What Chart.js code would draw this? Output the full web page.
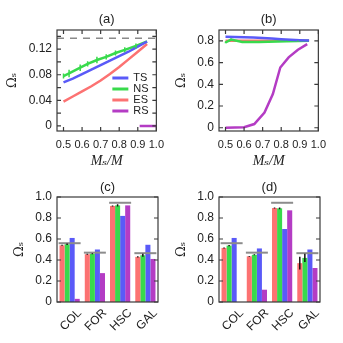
<!DOCTYPE html>
<html>
<head>
<meta charset="utf-8">
<script src="https://cdn.jsdelivr.net/npm/chart.js@4.4.1/dist/chart.umd.min.js"></script>
<style>
  html, body { margin: 0; padding: 0; background: #fff; }
  #wrap { position: relative; width: 343px; height: 343px; overflow: hidden; }
  .panel { position: absolute; }
</style>
</head>
<body>
<div id="wrap">
  <canvas id="ca" class="panel" width="171" height="171" style="left:0;top:0"></canvas>
  <canvas id="cb" class="panel" width="171" height="171" style="left:162px;top:0"></canvas>
  <canvas id="cc" class="panel" width="171" height="173" style="left:0;top:170px"></canvas>
  <canvas id="cd" class="panel" width="171" height="173" style="left:162px;top:170px"></canvas>
</div>
<script>
// ---- data ----
const xTickVals = [0.5, 0.6, 0.7, 0.8, 0.9, 1.0];
const yTicksA = [0, 0.04, 0.08, 0.12];
const yMinorA = [0, 0.02, 0.04, 0.06, 0.08, 0.10, 0.12, 0.14];
const yTicksB = [0, 0.2, 0.4, 0.6, 0.8];
const yTicksBar = [0, 0.2, 0.4, 0.6, 0.8, 1.0];

// panel (a)
const massRatio = [0.5, 0.55, 0.6, 0.65, 0.7, 0.75, 0.8, 0.85, 0.9, 0.95];
const tsA = [0.068, 0.074, 0.081, 0.088, 0.095, 0.102, 0.109, 0.116, 0.124, 0.132];
const esA = [0.038, 0.046, 0.054, 0.062, 0.071, 0.081, 0.092, 0.104, 0.116, 0.128];
const nsX = [0.5, 0.53, 0.59, 0.63, 0.68, 0.73, 0.78, 0.83, 0.89, 0.95];
const nsA = [0.078, 0.082, 0.091, 0.097, 0.103, 0.108, 0.114, 0.119, 0.125, 0.132];
const nsErrA = [0.004, 0.006, 0.005, 0.004, 0.005, 0.004, 0.004, 0.004, 0.004, 0];
const rsAX = [0.91, 1.0];
const rsA = [0, 0];
const refLineX = [0.465, 1.0];
const refLineA = [0.137, 0.137];

// panel (b)
const tsB = [0.838, 0.836, 0.833, 0.830, 0.826, 0.821, 0.815, 0.810, 0.806, 0.803];
const esB = [0.800, 0.801, 0.801, 0.802, 0.802, 0.802, 0.802, 0.802, 0.801, 0.800];
const nsB = [0.785, 0.812, 0.790, 0.790, 0.789, 0.792, 0.795, 0.797, 0.799, 0.800];
const nsErrB = [0.008, 0.010, 0.008, 0.006, 0.006, 0.006, 0.005, 0.005, 0.004, 0];
const rsBX = [0.5, 0.6, 0.655, 0.71, 0.755, 0.795, 0.84, 0.89, 0.94];
const rsB = [0, 0.005, 0.034, 0.14, 0.31, 0.555, 0.648, 0.718, 0.77];

// panels (c) and (d)
const groups = ['COL', 'FOR', 'HSC', 'GAL'];
const esC = [0.54, 0.455, 0.915, 0.43];
const nsC = [0.55, 0.46, 0.92, 0.445];
const tsC = [0.61, 0.50, 0.82, 0.545];
const rsC = [0.03, 0.275, 0.92, 0.41];
const refC = [0.56, 0.47, 0.945, 0.465];
const esErrC = [0.005, 0.005, 0.005, 0.006];
const nsErrC = [0.007, 0.005, 0.01, 0.014];

const esD = [0.515, 0.435, 0.895, 0.37];
const nsD = [0.537, 0.45, 0.892, 0.42];
const tsD = [0.61, 0.51, 0.695, 0.50];
const rsD = [0, 0.117, 0.873, 0.324];
const refD = [0.56, 0.47, 0.945, 0.465];
const esErrD = [0.005, 0.004, 0.004, 0.06];
const nsErrD = [0.006, 0.005, 0.008, 0.04];

const BLUE = '#5a5af8', GREEN = '#38da4c', RED = '#fc7272', PURPLE = '#b43cc4';

Chart.defaults.font.family = '"Liberation Sans", Arial, sans-serif';
Chart.defaults.font.size = 12;
Chart.defaults.color = '#222';

const pts = (xs, ys) => xs.map((x, i) => ({x: x, y: ys[i]}));

// frame with inward ticks on all four sides
const framePlugin = {
  id: 'frame',
  afterDatasetsDraw(chart, args, opts) {
    const {ctx, chartArea: a} = chart;
    const x = chart.scales.x, y = chart.scales.y;
    ctx.save();
    ctx.strokeStyle = '#3a3a3a';
    ctx.lineWidth = 1.2;
    ctx.beginPath();
    (opts.xTicks || []).forEach(v => {
      const px = x.getPixelForValue(v);
      ctx.moveTo(px, a.bottom); ctx.lineTo(px, a.bottom - 4);
      ctx.moveTo(px, a.top); ctx.lineTo(px, a.top + 4);
    });
    (opts.yTicks || []).forEach(v => {
      const py = y.getPixelForValue(v);
      ctx.moveTo(a.left, py); ctx.lineTo(a.left + 4, py);
      ctx.moveTo(a.right, py); ctx.lineTo(a.right - 4, py);
    });
    ctx.stroke();
    ctx.strokeRect(a.left, a.top, a.width, a.height);
    ctx.restore();
  }
};

// panel label centred over the plot area
const panelTitle = {
  id: 'panelTitle',
  afterDraw(chart, args, opts) {
    const {ctx, chartArea: a} = chart;
    ctx.save();
    ctx.font = '13px "Liberation Sans", Arial, sans-serif';
    ctx.fillStyle = '#222';
    ctx.textAlign = 'center';
    ctx.textBaseline = 'middle';
    ctx.fillText(opts.text, (a.left + a.right) / 2, opts.y);
    ctx.restore();
  }
};

// vertical error bars from dataset.err
const errPlugin = {
  id: 'errbars',
  afterDatasetsDraw(chart) {
    const {ctx} = chart;
    const y = chart.scales.y;
    chart.data.datasets.forEach((ds, i) => {
      if (!ds.err) return;
      const meta = chart.getDatasetMeta(i);
      ctx.save();
      ctx.strokeStyle = ds.errColor || '#111';
      ctx.lineWidth = ds.errWidth || 1.5;
      ctx.beginPath();
      meta.data.forEach((el, j) => {
        const e = ds.err[j];
        if (!e) return;
        const d = ds.data[j];
        const v = (typeof d === 'object') ? d.y : d;
        ctx.moveTo(el.x, y.getPixelForValue(v - e));
        ctx.lineTo(el.x, y.getPixelForValue(v + e));
      });
      ctx.stroke();
      ctx.restore();
    });
  }
};

// legend inside the plot area, lower right
const insideLegend = {
  id: 'insideLegend',
  afterDraw(chart, args, opts) {
    if (!opts.show) return;
    const {ctx, chartArea: a} = chart;
    ctx.save();
    ctx.font = '11px "Liberation Sans", Arial, sans-serif';
    ctx.textBaseline = 'middle';
    ctx.textAlign = 'left';
    let yy = a.top + 48;
    chart.data.datasets.filter(d => d.inLegend).forEach(d => {
      ctx.strokeStyle = d.borderColor;
      ctx.lineWidth = 3;
      ctx.beginPath();
      ctx.moveTo(a.right - 44, yy);
      ctx.lineTo(a.right - 28, yy);
      ctx.stroke();
      ctx.fillStyle = '#222';
      ctx.fillText(d.label, a.right - 23, yy);
      yy += 11;
    });
    ctx.restore();
  }
};

function lineSet(label, data, color, extra) {
  return Object.assign({
    label: label, data: data, borderColor: color, backgroundColor: color,
    borderWidth: 2.5, pointRadius: 0, tension: 0, fill: false
  }, extra || {});
}

function linearAxes(yMin, yMax, yTicks, yFmt, yTitlePad) {
  return {
    x: {
      type: 'linear', min: 0.465, max: 1.0,
      afterBuildTicks: s => { s.ticks = xTickVals.map(v => ({value: v})); },
      afterFit: s => { s.height = 40; },
      grid: {display: false, drawTicks: false}, border: {display: false},
      ticks: {padding: 7, autoSkip: false, maxRotation: 0, font: {size: 11}, callback: v => v.toFixed(1)},
      title: {display: true, text: 'Mₛ/M', color: '#222',
        font: {family: '"Liberation Serif", "DejaVu Serif", serif', size: 14, style: 'italic'},
        padding: {top: 0, bottom: 1}}
    },
    y: {
      type: 'linear', min: yMin, max: yMax,
      afterBuildTicks: s => { s.ticks = yTicks.map(v => ({value: v})); },
      afterFit: s => { s.width = 57; },
      grid: {display: false, drawTicks: false}, border: {display: false},
      ticks: {padding: 5, autoSkip: false, callback: yFmt},
      title: {display: true, text: 'Ωₛ', color: '#222',
        font: {family: '"DejaVu Serif", serif', size: 13},
        padding: {top: yTitlePad, bottom: 0}}
    }
  };
}

function baseOptions(titleText, titleY, topPad, scales, frame, legendShow) {
  return {
    responsive: false, animation: false, events: [],
    layout: {padding: {right: 10, left: 0, top: topPad, bottom: 0}},
    scales: scales,
    plugins: {
      legend: {display: false}, tooltip: {enabled: false}, title: {display: false},
      panelTitle: {text: titleText, y: titleY},
      frame: frame,
      insideLegend: {show: legendShow}
    }
  };
}

// (a)
new Chart(document.getElementById('ca'), {
  type: 'line',
  data: {
    datasets: [
      lineSet('TS', pts(massRatio, tsA), BLUE, {inLegend: true}),
      lineSet('NS', pts(nsX, nsA), GREEN, {inLegend: true, err: nsErrA, errColor: GREEN, errWidth: 1.5}),
      lineSet('ES', pts(massRatio, esA), RED, {inLegend: true}),
      lineSet('RS', pts(rsAX, rsA), PURPLE, {inLegend: true}),
      lineSet('', pts(refLineX, refLineA), '#8a8a8a', {borderWidth: 1.5, borderDash: [7, 6]})
    ]
  },
  options: baseOptions('(a)', 19, 30,
    linearAxes(-0.008, 0.15, yTicksA, v => v === 0 ? '0' : v.toFixed(2), 4.5),
    {xTicks: xTickVals, yTicks: yMinorA}, true),
  plugins: [framePlugin, errPlugin, insideLegend, panelTitle]
});

// (b)
new Chart(document.getElementById('cb'), {
  type: 'line',
  data: {
    datasets: [
      lineSet('TS', pts(massRatio, tsB), BLUE),
      lineSet('NS', pts(nsX, nsB), GREEN, {err: nsErrB, errColor: GREEN, errWidth: 1.5}),
      lineSet('ES', pts(massRatio, esB), RED),
      lineSet('RS', pts(rsBX, rsB), PURPLE)
    ]
  },
  options: baseOptions('(b)', 19, 30,
    linearAxes(-0.03, 0.9, yTicksB, v => v === 0 ? '0' : v.toFixed(1), 12),
    {xTicks: xTickVals, yTicks: yTicksB}, false),
  plugins: [framePlugin, errPlugin, insideLegend, panelTitle]
});

function barChart(id, titleText, es, ns, ts, rs, ref, esErr, nsErr) {
  return new Chart(document.getElementById(id), {
    type: 'bar',
    data: {
      labels: groups,
      datasets: [
        {type: 'line', label: 'ref', data: ref, showLine: false, pointStyle: 'line',
         pointRadius: 11, pointBorderWidth: 2, pointBorderColor: '#8c8c8c', order: 0},
        {label: 'ES', data: es, backgroundColor: RED, err: esErr, order: 1},
        {label: 'NS', data: ns, backgroundColor: GREEN, err: nsErr, order: 1},
        {label: 'TS', data: ts, backgroundColor: BLUE, order: 1},
        {label: 'RS', data: rs, backgroundColor: PURPLE, order: 1}
      ]
    },
    options: Object.assign(baseOptions(titleText, 17, 27, {
      x: {
        type: 'category',
        afterFit: s => { s.height = 41; },
        grid: {display: false, drawTicks: false}, border: {display: false},
        ticks: {padding: 4, autoSkip: false, minRotation: 45, maxRotation: 45, labelOffset: 10}
      },
      y: {
        type: 'linear', min: 0, max: 1.0,
        afterBuildTicks: s => { s.ticks = yTicksBar.map(v => ({value: v})); },
        afterFit: s => { s.width = 57; },
        grid: {display: false, drawTicks: false}, border: {display: false},
        ticks: {padding: 5, autoSkip: false, callback: v => v === 0 ? '0' : v.toFixed(1)},
        title: {display: true, text: 'Ωₛ', color: '#222',
          font: {family: '"DejaVu Serif", serif', size: 13},
          padding: {top: 12, bottom: 0}}
      }
    }, {xTicks: [], yTicks: yTicksBar}, false), {
      datasets: {bar: {categoryPercentage: 0.8, barPercentage: 1.0, borderWidth: 0}}
    }),
    plugins: [framePlugin, errPlugin, panelTitle]
  });
}

barChart('cc', '(c)', esC, nsC, tsC, rsC, refC, esErrC, nsErrC);
barChart('cd', '(d)', esD, nsD, tsD, rsD, refD, esErrD, nsErrD);
</script>
</body>
</html>
